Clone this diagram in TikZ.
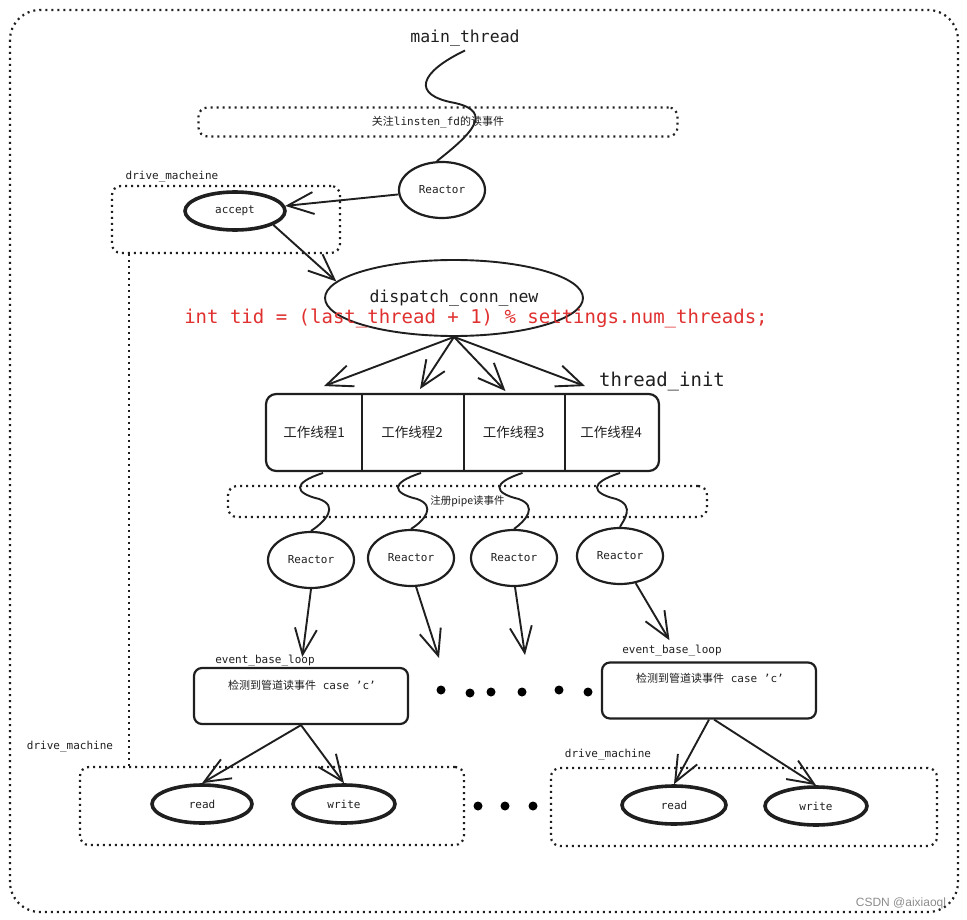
\documentclass[tikz,border=0pt]{standalone}
\usepackage{fontspec}
\setmainfont{DejaVu Sans Mono}
\newfontfamily\cjk{Noto Sans CJK SC}
\newfontfamily\wmfont{Liberation Sans}
\usetikzlibrary{shapes.geometric, arrows.meta, calc, positioning}
\definecolor{ink}{rgb}{0.12, 0.12, 0.12}
\definecolor{codered}{rgb}{0.88, 0.19, 0.19}
\newcommand{\tinymono}{\fontsize{11}{13}\selectfont}
\newcommand{\bigmono}{\fontsize{16.5}{19}\selectfont}

\begin{document}
\begin{tikzpicture}[x=1pt, y=-1pt, line width=1.9pt, draw=ink, text=ink,
    >={Straight Barb[length=26pt,width=22pt]},
    dotline/.style={line width=2.2pt, dash pattern=on 2pt off 4pt},
    dotbox/.style={dotline, draw, rounded corners=9pt, inner sep=0pt},
    reactor/.style={ellipse, draw, line width=2.2pt, minimum width=86pt, minimum height=56pt, inner sep=0pt, font=\tinymono},
    opnode/.style={ellipse, draw, line width=3.6pt, minimum width=100pt, minimum height=38pt, inner sep=0pt, font=\tinymono},
    cell/.style={minimum height=75pt, inner sep=0pt, font=\cjk\fontsize{13.5}{15}\selectfont},
    loopbox/.style={draw, line width=2.2pt, rounded corners=8pt, minimum width=214pt, minimum height=56pt, inner sep=0pt},
    tag/.style={font=\tinymono, inner sep=0pt}]
    \useasboundingbox (0,0) rectangle (967,920);

    % Outer frame
    \draw[dotline, rounded corners=30pt] (10,10) rectangle (958,912);

    % Main thread
    \node[font=\bigmono] (main) at (465,38) {main\_thread};
    \node[dotbox, minimum width=479pt, minimum height=29pt, font=\tinymono] (listen) at (438,122) {{\cjk 关注}linsten\_fd{\cjk 的读事件}};
    \node[reactor] (mreactor) at (442,190) {Reactor};
    \draw (main.south) .. controls (420,72) and (410,95) .. (455,103)
        .. controls (495,112) and (470,135) .. (mreactor.100);

    % Accept
    \node[dotbox, minimum width=228pt, minimum height=67pt] (accbox) at (226,219.5) {};
    \node[tag] (acclbl) at (172,177) {drive\_macheine};
    \node[opnode] (accept) at (235,211) {accept};
    \draw[->] (mreactor) -- (accept);

    % Dispatch
    \node[ellipse, draw, minimum width=258pt, minimum height=76pt, font=\bigmono] (dispatch) at (454,298) {dispatch\_conn\_new};
    \node[font=\fontsize{19}{22}\selectfont, text=codered] (tid) at (476,318) {int tid = (last\_thread + 1) \% settings.num\_threads;};
    \draw[->] (accept.-20) -- (dispatch.172);

    % Worker threads
    \foreach \i/\x/\w in {1/314/94, 2/412/102, 3/513.5/101, 4/611/94}
        \node[cell, minimum width=\w pt] (w\i) at (\x,432.5) {工作线程\i};
    \draw[line width=2.2pt, rounded corners=10pt] (w1.north west) rectangle (w4.south east);
    \foreach \i in {1,2,3}
        \draw[line width=1.4pt] (w\i.north east) -- (w\i.south east);
    \node[font=\fontsize{19}{22}\selectfont] (tinit) at (662,382) {thread\_init};
    \foreach \i/\dx/\dy in {1/10/8, 2/8/5, 3/-8/3, 4/-26/8}
        \draw[->] (dispatch.south) -- ([shift={(\dx,-\dy)}]w\i.north);

    % Pipe events and worker reactors
    \node[dotbox, minimum width=479pt, minimum height=31pt, font=\cjk\fontsize{10.5}{12}\selectfont] (pipe) at (467.5,501.5) {注册pipe读事件};
    \foreach \i/\x/\y in {1/311/560, 2/411/558, 3/514/558, 4/620/556} {
        \node[reactor] (r\i) at (\x,\y) {Reactor};
        \draw ($(w\i.south)+(9,2)$) .. controls ($(w\i.south)+(-22,12)$) and ($(w\i.south)+(-20,22)$) .. ($(w\i.south)+(5,28)$)
            .. controls ($(w\i.south)+(25,35)$) and ($(w\i.south)+(12,50)$) .. (r\i.north);
    }

    % Event loops
    \node[loopbox] (loop1) at (301,696) {};
    \node[tag] (loop1lbl) at (265,661) {event\_base\_loop};
    \node[tag] (loop1txt) at (302,685) {{\cjk 检测到管道读事件} case 'c'};
    \node[loopbox] (loop2) at (709,690.5) {};
    \node[tag] (loop2lbl) at (672,651) {event\_base\_loop};
    \node[tag] (loop2txt) at (710,678) {{\cjk 检测到管道读事件} case 'c'};
    \coordinate (e2) at (439,658);
    \coordinate (e3) at (525,655);
    \draw[->, shorten >=10pt] (r1.south) -- (loop1.north);
    \draw[->] (r2.-80) -- (e2);
    \draw[->] (r3.-88) -- (e3);
    \draw[->, shorten >=5pt] (r4.-60) -- (loop2lbl.north);
    \foreach \x/\y in {441/690, 470/693, 491/692, 522/692, 559/690, 588/692}
        \fill (\x,\y) circle (4.5pt);

    % Drive machines
    \node[dotbox, minimum width=384pt, minimum height=78pt] (dm1) at (272,806) {};
    \node[tag] (dm1lbl) at (70,747) {drive\_machine};
    \node[opnode] (read1) at (202,804) {read};
    \node[opnode, minimum width=102pt] (write1) at (344,804) {write};
    \draw[->] (loop1.south) -- (read1.north);
    \draw[->] (loop1.south) -- (write1.north);
    \draw[dotline] ($(accbox.south west)+(18,0)$) -- ($(dm1.north west)+(50,0)$);
    \foreach \x in {478,505,533}
        \fill (\x,806) circle (4.5pt);

    \node[dotbox, minimum width=386pt, minimum height=78pt] (dm2) at (744,807) {};
    \node[tag] (dm2lbl) at (608,755) {drive\_machine};
    \node[opnode, minimum width=104pt] (read2) at (674,805) {read};
    \node[opnode, minimum width=102pt] (write2) at (816,806) {write};
    \draw[->] (loop2.south) -- (read2.north);
    \draw[->] (loop2.-80) -- (write2.north);

    % Watermark
    \node[font=\wmfont\fontsize{12}{14}\selectfont, text=black!45] (mark) at (901,903) {CSDN @aixiaoql};
\end{tikzpicture}
\end{document}
